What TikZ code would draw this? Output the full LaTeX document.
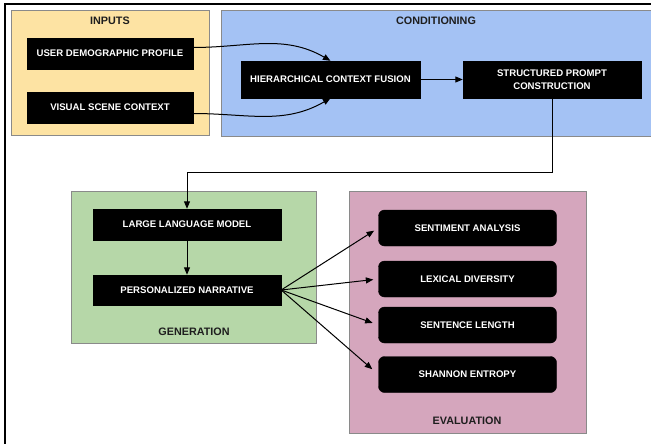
\documentclass[tikz,border=0pt]{standalone}
\usepackage{fontspec}
\setmainfont{Liberation Sans}
\usetikzlibrary{arrows.meta,calc}
\definecolor{inyel}{HTML}{FDE3A3}
\definecolor{conblue}{HTML}{A4C2F4}
\definecolor{gengreen}{HTML}{B6D7A8}
\definecolor{evpink}{HTML}{D5A6BD}
\definecolor{grpborder}{HTML}{8A8A8A}
\definecolor{titlecol}{HTML}{1E1E1E}
\begin{document}
\begin{tikzpicture}[x=1pt,y=-1pt,
  grp/.style={draw=grpborder,line width=0.8pt,inner sep=0pt},
  grptitle/.style={text=titlecol,font=\bfseries\fontsize{10.8}{12}\selectfont,inner sep=0pt},
  blk/.style={fill=black,draw=black,text=white,font=\bfseries\fontsize{9.6}{13}\selectfont,align=center,inner sep=0pt},
  evbox/.style={blk,rounded corners=6pt,minimum width=178pt,minimum height=36pt},
  arr/.style={-{Triangle[length=7.5pt,width=6pt]},line width=1pt,black},
  frame/.style={line width=2pt,black}]
\clip (0,0) rectangle (651,444);
\fill[white] (0,0) rectangle (651,444);
% outer frame
\draw[frame] (4.5,450) -- (4.5,4.5) -- (660,4.5);
% groups
\node[grp,fill=inyel,minimum width=198pt,minimum height=125pt] (ginputs) at (110,72.5) {};
\node[grp,fill=conblue,minimum width=450pt,minimum height=126pt] (gcond) at (446,73) {};
\node[grp,fill=gengreen,minimum width=245pt,minimum height=152pt] (ggen) at (193.5,267) {};
\node[grp,fill=evpink,minimum width=237pt,minimum height=242pt] (geval) at (467.5,312) {};
% titles
\node[grptitle] (tinputs) at (110,21) {INPUTS};
\node[grptitle] (tcond) at (436,21) {CONDITIONING};
\node[grptitle] (tgen) at (194,332) {GENERATION};
\node[grptitle] (teval) at (467,421) {EVALUATION};
% boxes
\node[blk,minimum width=166pt,minimum height=31pt] (udp) at (110,53.5) {USER DEMOGRAPHIC PROFILE};
\node[blk,minimum width=166pt,minimum height=31pt] (vsc) at (110,107.5) {VISUAL SCENE CONTEXT};
\node[blk,minimum width=179pt,minimum height=37pt] (hcf) at (330.5,79.5) {HIERARCHICAL CONTEXT FUSION};
\node[blk,minimum width=178pt,minimum height=37pt] (spc) at (552,79.5) {STRUCTURED PROMPT\\CONSTRUCTION};
\node[blk,minimum width=188pt,minimum height=31pt] (llm) at (187,224.5) {LARGE LANGUAGE MODEL};
\node[blk,minimum width=188pt,minimum height=30pt] (pn) at (187,290) {PERSONALIZED NARRATIVE};
\node[evbox] (sa) at (467.5,228) {SENTIMENT ANALYSIS};
\node[evbox] (ld) at (467.5,279) {LEXICAL DIVERSITY};
\node[evbox] (sl) at (467.5,325) {SENTENCE LENGTH};
\node[evbox] (se) at (467.5,374.5) {SHANNON ENTROPY};
% connectors
\draw[arr] ([yshift=6pt]udp.east) to[out=0,in=150] (hcf.north);
\draw[arr] ([yshift=-6pt]vsc.east) to[out=0,in=-150] (hcf.south);
\draw[arr] (hcf.east) -- (spc.west);
\coordinate (bend) at (0,172);
\draw[arr] (spc.south) -- (spc.south |- bend) -| (llm.north);
\draw[arr] (llm.south) -- (pn.north);
\draw[arr,shorten >=5pt] (pn.east) -- (sa.west);
\draw[arr,shorten >=5pt] (pn.east) -- (ld.west);
\draw[arr,shorten >=6pt] (pn.east) -- (sl.west);
\draw[arr,shorten >=8pt] (pn.east) -- (se.west);
\end{tikzpicture}
\end{document}
